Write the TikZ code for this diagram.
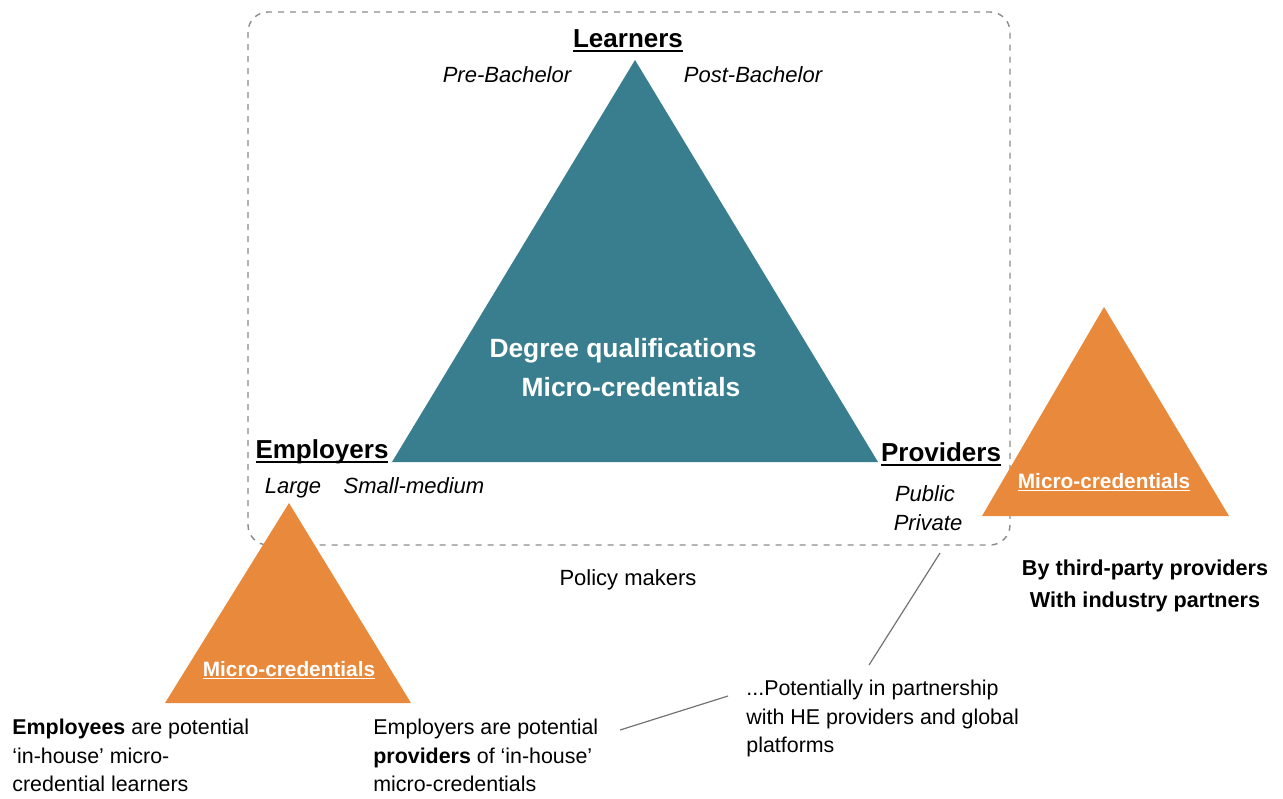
\documentclass[tikz,border=0pt]{standalone}
\usepackage{fontspec}
\setmainfont{Liberation Sans}
\usetikzlibrary{positioning}
\definecolor{tealtri}{RGB}{56,126,142}
\definecolor{orangetri}{RGB}{233,137,59}
\newcommand{\ulword}[3]{\setbox0\hbox{#1}\rlap{\rule[-#2]{\wd0}{#3}}\box0}

\begin{document}
\begin{tikzpicture}[x=0.5pt, y=-0.5pt,
    heading/.style = {inner sep=0pt, anchor=base, font=\fontsize{13}{16}\selectfont\bfseries},
    sub/.style     = {inner sep=0pt, anchor=base, font=\fontsize{11}{14}\selectfont\itshape},
    inside/.style  = {inner sep=0pt, anchor=base, text=white, font=\fontsize{13.2}{19}\selectfont\bfseries},
    smallmc/.style = {inner sep=0pt, anchor=base, text=white, font=\fontsize{10.4}{13}\selectfont\bfseries},
    note/.style    = {inner sep=0pt, anchor=north west, align=left, font=\fontsize{10.7}{14.2}\selectfont},
    link/.style    = {black!55, line width=0.6pt}]
    \useasboundingbox (0,0) rectangle (1283,798);

    % stakeholder box
    \draw[black!45, dash pattern=on 3pt off 3pt, line width=0.7pt, rounded corners=10pt] (248,12) rectangle (1010,545);

    % main triangle
    \coordinate (learn tip)   at (635,60);
    \coordinate (emp corner)  at (392,462);
    \coordinate (prov corner) at (878,462);
    \fill[tealtri] (learn tip) -- (prov corner) -- (emp corner) -- cycle;

    % side triangles
    \coordinate (right tip)   at (1104,307);
    \coordinate (right left)  at (982,516);
    \coordinate (right right) at (1229,516);
    \fill[orangetri] (right tip) -- (right right) -- (right left) -- cycle;
    \coordinate (left tip)    at (289,503);
    \coordinate (left left)   at (165,703);
    \coordinate (left right)  at (411,703);
    \fill[orangetri] (left tip) -- (left right) -- (left left) -- cycle;

    \node[heading] (learners)  at (628,47)  {\ulword{Learners}{2.6pt}{0.9pt}};
    \node[sub]     (prebach)   at (507,82)  {Pre-Bachelor};
    \node[sub]     (postbach)  at (753,82)  {Post-Bachelor};
    \node[inside]  (degree)    at (623,357) {Degree qualifications};
    \node[inside]  (micro)     at (631,396) {Micro-credentials};

    \node[heading] (employers) at (322,458) {\ulword{Employers}{2.6pt}{0.9pt}};
    \node[sub]     (large)     at (293,493) {Large};
    \node[sub]     (smallmed)  at (414,493) {Small-medium};

    \node[heading] (providers) at (941,461) {\ulword{Providers}{2.6pt}{0.9pt}};
    \node[sub]     (public)    at (925,501) {Public};
    \node[sub]     (private)   at (928,530) {Private};

    \node[smallmc] (right mc)  at (1104,488) {\ulword{Micro-credentials}{1.6pt}{0.5pt}};
    \node[smallmc] (left mc)   at (289,676)  {\ulword{Micro-credentials}{1.6pt}{0.5pt}};

    \node[inner sep=0pt, anchor=base, font=\fontsize{11}{14}\selectfont] (policy) at (628,585) {Policy makers};
    \node[inner sep=0pt, anchor=north, align=center, font=\fontsize{10.8}{16}\selectfont\bfseries] (third) at (1145,559)
        {By third-party providers\\With industry partners};

    \node[note] (employees) at (12,719)  {\textbf{Employees} are potential\\`in-house' micro-\\credential learners};
    \node[note] (emp prov)  at (373,719) {Employers are potential\\\textbf{providers} of `in-house'\\micro-credentials};
    \node[note] (partner)   at (746,680) {...Potentially in partnership\\with HE providers and global\\platforms};

    % pointer lines
    \coordinate (prov link)    at (940,553);
    \coordinate (partner top)  at (869,665);
    \coordinate (emp link)     at (620,730);
    \coordinate (partner left) at (728,696);
    \draw[link] (prov link) -- (partner top);
    \draw[link] (emp link) -- (partner left);
\end{tikzpicture}
\end{document}
